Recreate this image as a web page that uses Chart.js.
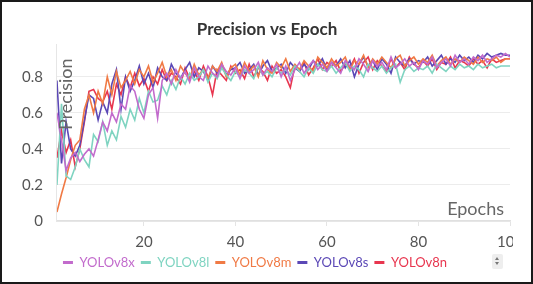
<!DOCTYPE html>
<html>
<head>
<meta charset="utf-8">
<script src="https://cdn.jsdelivr.net/npm/chart.js@4.4.1/dist/chart.umd.min.js"></script>
<style>
  html, body { margin: 0; padding: 0; background: #fff; }
  #frame { position: absolute; left: 0; top: 0; width: 533px; height: 284px; box-sizing: border-box; border: 2px solid #1a1a1a; overflow: hidden; background: #fff; }
  #clip { position: absolute; left: 0; top: 0; width: 511px; height: 280px; overflow: hidden; }
  #wrap { position: absolute; left: 0; top: 0; width: 540px; height: 280px; }
  #arrows { position: absolute; left: 490px; top: 252px; width: 11px; height: 15px; background: #eeeeee; border-radius: 2px; }
  #arrows .up { position: absolute; left: 3px; top: 3px; width: 0; height: 0; border-left: 2.5px solid transparent; border-right: 2.5px solid transparent; border-bottom: 3px solid #777; }
  #arrows .dn { position: absolute; left: 3px; top: 8px; width: 0; height: 0; border-left: 2.5px solid transparent; border-right: 2.5px solid transparent; border-top: 3px solid #777; }
</style>
</head>
<body>
<div id="frame">
  <div id="clip"><div id="wrap"><canvas id="c" width="540" height="280"></canvas></div></div>
  <div id="arrows"><div class="up"></div><div class="dn"></div></div>
</div>
<script>
const chartTitle = "Precision vs Epoch";
const yAxisTitle = "Precision";
const xAxisTitle = "Epochs";
const seriesNames = ["YOLOv8x", "YOLOv8l", "YOLOv8m", "YOLOv8s", "YOLOv8n"];
const seriesColors = ["#c26bcc", "#7fd4c1", "#f07a45", "#5b48b6", "#e8364f"];
const xTickValues = [20, 40, 60, 80, 100];
const yTickValues = [0, 0.2, 0.4, 0.6, 0.8];
const epochs = Array.from({length: 100}, (_, i) => i + 1);

const yolov8x = [
  0.60,0.45,0.28,0.35,0.38,0.33,0.37,0.40,0.36,0.45,
  0.55,0.50,0.60,0.55,0.65,0.62,0.75,0.72,0.62,0.57,
  0.70,0.74,0.57,0.78,0.82,0.76,0.84,0.79,0.83,0.77,
  0.85,0.80,0.78,0.86,0.82,0.80,0.87,0.83,0.81,0.85,
  0.79,0.86,0.82,0.84,0.88,0.81,0.85,0.83,0.87,0.80,
  0.86,0.78,0.84,0.88,0.82,0.86,0.89,0.84,0.87,0.83,
  0.88,0.85,0.82,0.89,0.86,0.84,0.90,0.87,0.83,0.89,
  0.86,0.88,0.84,0.91,0.85,0.87,0.90,0.86,0.88,0.84,
  0.89,0.87,0.91,0.85,0.88,0.90,0.86,0.92,0.88,0.90,
  0.87,0.91,0.89,0.92,0.88,0.90,0.92,0.91,0.93,0.91
];
const yolov8l = [
  0.20,0.65,0.25,0.23,0.30,0.40,0.34,0.30,0.48,0.44,
  0.55,0.42,0.50,0.45,0.58,0.52,0.62,0.56,0.68,0.60,
  0.72,0.66,0.67,0.75,0.70,0.78,0.73,0.80,0.76,0.82,
  0.78,0.80,0.84,0.77,0.82,0.79,0.85,0.81,0.78,0.83,
  0.80,0.84,0.82,0.79,0.86,0.81,0.83,0.80,0.85,0.82,
  0.84,0.81,0.86,0.83,0.80,0.85,0.82,0.87,0.84,0.83,
  0.86,0.82,0.85,0.88,0.83,0.86,0.84,0.80,0.87,0.85,
  0.83,0.86,0.82,0.85,0.87,0.77,0.84,0.86,0.83,0.85,
  0.84,0.86,0.82,0.87,0.85,0.83,0.86,0.84,0.87,0.85,
  0.86,0.84,0.87,0.85,0.86,0.87,0.85,0.86,0.86,0.86
];
const yolov8m = [
  0.05,0.15,0.24,0.34,0.42,0.45,0.62,0.70,0.60,0.72,
  0.65,0.80,0.70,0.83,0.74,0.78,0.83,0.76,0.84,0.80,
  0.86,0.77,0.82,0.88,0.80,0.84,0.78,0.86,0.82,0.79,
  0.87,0.81,0.84,0.79,0.86,0.83,0.88,0.80,0.85,0.87,
  0.81,0.88,0.83,0.86,0.80,0.89,0.84,0.82,0.88,0.85,
  0.90,0.83,0.87,0.84,0.89,0.86,0.83,0.91,0.88,0.85,
  0.90,0.86,0.88,0.91,0.84,0.89,0.87,0.92,0.85,0.90,
  0.87,0.91,0.88,0.85,0.90,0.92,0.86,0.89,0.91,0.87,
  0.90,0.88,0.92,0.86,0.89,0.91,0.87,0.90,0.88,0.91,
  0.89,0.87,0.91,0.88,0.90,0.89,0.91,0.88,0.90,0.90
];
const yolov8s = [
  0.78,0.32,0.55,0.40,0.36,0.42,0.56,0.70,0.68,0.56,
  0.66,0.60,0.76,0.84,0.62,0.80,0.72,0.78,0.86,0.76,
  0.82,0.74,0.85,0.80,0.78,0.87,0.82,0.79,0.84,0.88,
  0.80,0.85,0.83,0.78,0.86,0.82,0.87,0.81,0.84,0.85,
  0.88,0.82,0.84,0.87,0.81,0.86,0.89,0.83,0.85,0.87,
  0.82,0.88,0.85,0.83,0.87,0.84,0.89,0.86,0.90,0.84,
  0.88,0.86,0.90,0.85,0.89,0.80,0.87,0.91,0.86,0.89,
  0.84,0.90,0.87,0.82,0.91,0.88,0.86,0.90,0.87,0.89,
  0.88,0.91,0.86,0.89,0.92,0.87,0.90,0.88,0.92,0.89,
  0.91,0.88,0.92,0.90,0.93,0.91,0.92,0.93,0.92,0.92
];
const yolov8n = [
  0.35,0.50,0.38,0.45,0.30,0.40,0.55,0.72,0.73,0.68,
  0.66,0.72,0.62,0.76,0.70,0.80,0.74,0.82,0.75,0.79,
  0.72,0.80,0.76,0.84,0.78,0.82,0.80,0.76,0.85,0.79,
  0.83,0.78,0.86,0.80,0.70,0.84,0.81,0.78,0.86,0.82,
  0.84,0.79,0.87,0.80,0.85,0.83,0.78,0.86,0.82,0.84,
  0.80,0.74,0.86,0.83,0.88,0.81,0.85,0.90,0.84,0.88,
  0.86,0.89,0.83,0.87,0.85,0.90,0.82,0.88,0.91,0.84,
  0.89,0.86,0.83,0.90,0.85,0.88,0.84,0.91,0.87,0.85,
  0.89,0.86,0.90,0.84,0.88,0.87,0.91,0.85,0.89,0.88,
  0.86,0.90,0.87,0.89,0.85,0.90,0.88,0.89,0.90,0.90
];
const seriesValues = [yolov8x, yolov8l, yolov8m, yolov8s, yolov8n];

const FONT = "Lato, 'Open Sans', sans-serif";

const innerTitles = {
  id: 'innerTitles',
  afterLayout(chart) {
    if (chart.titleBlock) { chart.titleBlock.left += 8; chart.titleBlock.right += 8; }
    if (chart.legend) { chart.legend.left -= 4; chart.legend.right -= 4; }
  },
  afterDraw(chart) {
    const ctx = chart.ctx, a = chart.chartArea;
    ctx.save();
    ctx.fillStyle = '#666';
    ctx.font = '18px ' + FONT;
    ctx.textBaseline = 'middle';
    ctx.textAlign = 'right';
    ctx.fillText(xAxisTitle, a.right - 6, a.bottom - 11.5);
    ctx.translate(a.left + 9, a.top + 14);
    ctx.rotate(-Math.PI / 2);
    ctx.textAlign = 'right';
    ctx.fillText(yAxisTitle, 0, 0);
    ctx.restore();
  }
};

new Chart(document.getElementById('c'), {
  type: 'line',
  data: {
    datasets: seriesNames.map((name, i) => ({
      label: name,
      data: epochs.map((e, j) => ({x: e, y: seriesValues[i][j]})),
      borderColor: seriesColors[i],
      backgroundColor: seriesColors[i],
      borderWidth: 1.6,
      pointRadius: 0,
      tension: 0
    }))
  },
  options: {
    responsive: false,
    animation: false,
    layout: { padding: { left: 6, right: 32, top: 4, bottom: 3 } },
    plugins: {
      title: {
        display: true, text: chartTitle, color: '#333',
        font: { family: FONT, size: 17, weight: 'bold' },
        padding: { top: 13, bottom: 5 }
      },
      legend: {
        position: 'bottom',
        labels: {
          boxWidth: 10, boxHeight: 3, padding: 6,
          font: { family: FONT, size: 13 },
          generateLabels(chart) {
            return chart.data.datasets.map((d, i) => ({
              text: d.label, fillStyle: d.borderColor, strokeStyle: d.borderColor,
              lineWidth: 0, fontColor: d.borderColor, datasetIndex: i, hidden: false
            }));
          }
        }
      },
      tooltip: { enabled: false }
    },
    scales: {
      x: {
        type: 'linear', min: 1, max: 100,
        afterBuildTicks(s) { s.ticks = xTickValues.map(v => ({value: v})); },
        afterFit(s) { s.height = 29; },
        grid: { display: true, drawOnChartArea: false, drawTicks: true, tickLength: 5, color: '#e4e4e4' },
        border: { display: true, color: '#e0e0e0', width: 1.5 },
        ticks: { color: '#555', font: { family: FONT, size: 15 }, padding: 7, maxRotation: 0, callback: v => String(v) }
      },
      y: {
        min: 0, max: 0.98,
        afterBuildTicks(s) { s.ticks = yTickValues.map(v => ({value: v})); },
        grid: { color: '#ececec', drawTicks: false },
        border: { display: true, color: '#e6e6e6' },
        ticks: { color: '#555', font: { family: FONT, size: 15 }, padding: 14, callback: v => String(v) }
      }
    }
  },
  plugins: [innerTitles]
});
</script>
</body>
</html>
